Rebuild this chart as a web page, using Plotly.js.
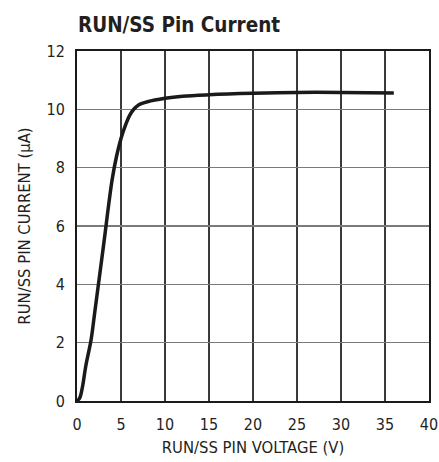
<!DOCTYPE html>
<html><head><meta charset="utf-8">
<script src="https://cdn.plot.ly/plotly-3.0.1.min.js"></script>
<style>html,body{margin:0;padding:0;background:#fff}</style>
</head><body><div id="chart" style="width:439px;height:462px"></div>
<script>
var voltage = [0, 0.3, 0.6, 1.0, 1.6, 2.0, 3.0, 4.0, 4.5, 5.0, 5.5, 6.0, 6.5, 7.0, 8.0, 10, 12, 15, 20, 25, 30, 36];
var current = [0, 0.1, 0.45, 1.2, 2.1, 3.0, 5.3, 7.6, 8.4, 9.0, 9.45, 9.8, 10.02, 10.15, 10.26, 10.38, 10.45, 10.5, 10.55, 10.58, 10.58, 10.56];
var xTicks = [0, 5, 10, 15, 20, 25, 30, 35, 40];
var yTicks = [0, 2, 4, 6, 8, 10, 12];
var F = "'DejaVu Sans Condensed', 'Liberation Sans Narrow', sans-serif";
Plotly.newPlot('chart', [{
  x: voltage, y: current, mode: 'lines', type: 'scatter',
  line: {color: '#1a1a1a', width: 3.5, shape: 'spline', smoothing: 1},
  hoverinfo: 'none'
}], {
  width: 439, height: 462,
  margin: {l: 77, r: 10, t: 51, b: 61},
  paper_bgcolor: '#fff', plot_bgcolor: '#fff',
  showlegend: false,
  title: {text: '<b>RUN/SS Pin Current</b>', x: 78/439, xanchor: 'left', y: 1-25/462, yanchor: 'middle',
    font: {family: F, size: 20.5, color: '#231f20'}},
  xaxis: {range: [0, 40], tickvals: xTicks, ticktext: xTicks.map(String),
    showgrid: true, gridcolor: '#3a3a3a', gridwidth: 1.3, zeroline: false,
    showline: true, linecolor: '#1a1a1a', linewidth: 2, mirror: true, ticks: '',
    ticklabelstandoff: 8,
    tickfont: {family: F, size: 16, color: '#231f20'},
    title: {text: 'RUN/SS PIN VOLTAGE (V)', font: {family: F, size: 16.5, color: '#231f20'}, standoff: 8}},
  yaxis: {range: [0, 12], tickvals: yTicks, ticktext: yTicks.map(String),
    showgrid: true, gridcolor: '#7a7a7a', gridwidth: 1.3, zeroline: false,
    showline: true, linecolor: '#1a1a1a', linewidth: 2, mirror: true, ticks: '',
    ticklabelstandoff: 7,
    tickfont: {family: F, size: 16, color: '#231f20'},
    title: {text: 'RUN/SS PIN CURRENT (μA)', font: {family: F, size: 16.5, color: '#231f20'}, standoff: 12}}
}, {displayModeBar: false, staticPlot: true});
</script></body></html>
